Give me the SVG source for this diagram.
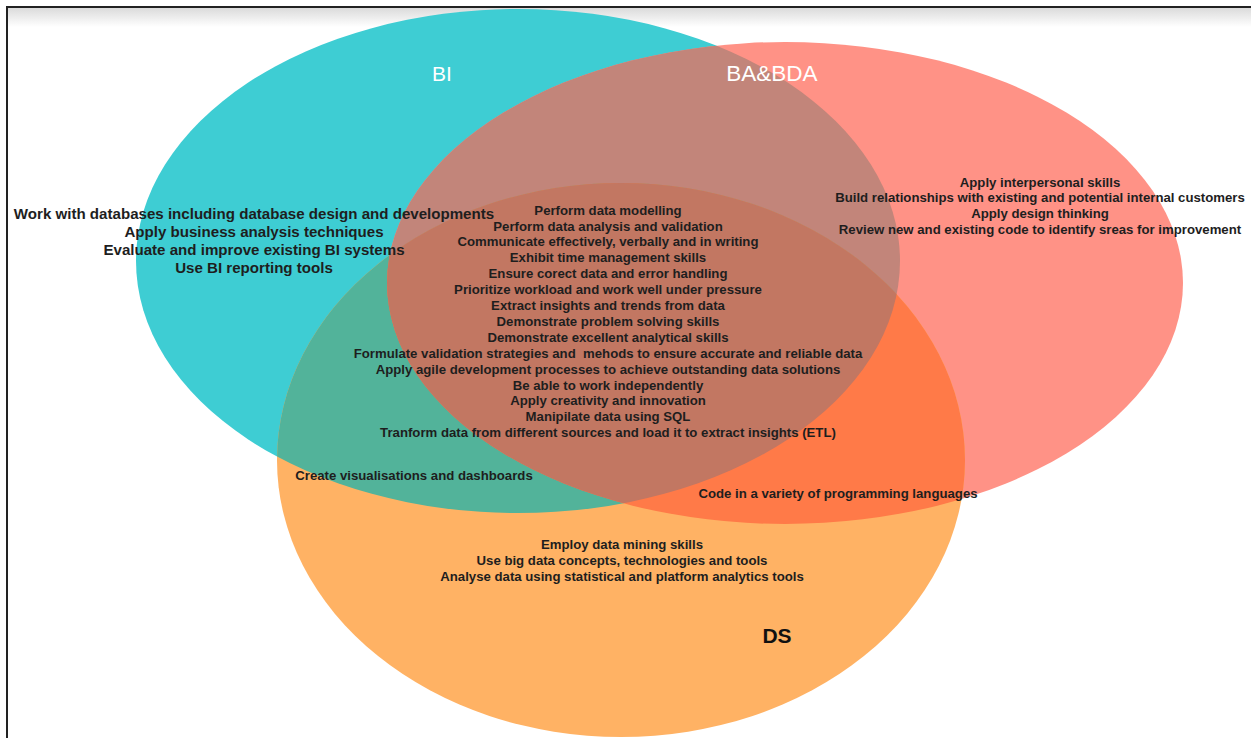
<svg xmlns="http://www.w3.org/2000/svg" width="1251" height="738" viewBox="0 0 1251 738">
  <defs>
    <linearGradient id="topShade" x1="0" y1="0" x2="0" y2="1">
      <stop offset="0" stop-color="#d9d9d9"/>
      <stop offset="1" stop-color="#ffffff"/>
    </linearGradient>
    <ellipse id="shapeBI" cx="518" cy="261" rx="382" ry="252"/>
    <ellipse id="shapeBA" cx="785" cy="283" rx="398" ry="241"/>
    <ellipse id="shapeDS" cx="621" cy="460" rx="344" ry="277"/>
    <clipPath id="clipBI"><use href="#shapeBI"/></clipPath>
    <clipPath id="clipBA"><use href="#shapeBA"/></clipPath>
    <clipPath id="clipDS"><use href="#shapeDS"/></clipPath>
    <style>
      .lbl { font-family: "Liberation Sans", Arial, sans-serif; text-anchor: middle; }
      .set { font-size: 21px; fill: #ffffff; }
      .set2 { font-size: 22.5px; fill: #ffffff; }
      .ds { font-size: 21px; fill: #111111; font-weight: bold; }
      .big { font-size: 15.1px; font-weight: bold; fill: #1e1e1e; }
      .sm { font-size: 13.2px; font-weight: bold; fill: #1e1e1e; }
    </style>
  </defs>

  <!-- page background and frame -->
  <rect x="0" y="0" width="1251" height="738" fill="#ffffff"/>
  <rect x="7" y="7" width="1244" height="20" fill="url(#topShade)"/>

  <!-- set regions -->
  <g id="regions">
    <use href="#shapeBI" fill="#3ecdd3"/>
    <use href="#shapeBA" fill="#ff9286"/>
    <use href="#shapeDS" fill="#ffb264"/>
    <!-- pairwise overlaps -->
    <g clip-path="url(#clipBI)"><use href="#shapeBA" fill="#c2857a"/></g>
    <g clip-path="url(#clipBI)"><use href="#shapeDS" fill="#52b39a"/></g>
    <g clip-path="url(#clipBA)"><use href="#shapeDS" fill="#ff7a48"/></g>
    <!-- triple overlap -->
    <g clip-path="url(#clipBI)"><g clip-path="url(#clipBA)"><use href="#shapeDS" fill="#c27762"/></g></g>
  </g>

  <line x1="6" y1="7" x2="1251" y2="7" stroke="#222222" stroke-width="2"/>
  <line x1="7" y1="6" x2="7" y2="738" stroke="#222222" stroke-width="2"/>

  <g id="node-bi">
    <text class="lbl set" x="442" y="81">BI</text>
    <text class="lbl big" x="254" y="219">Work with databases including database design and developments</text>
    <text class="lbl big" x="254" y="237">Apply business analysis techniques</text>
    <text class="lbl big" x="254" y="255">Evaluate and improve existing BI systems</text>
    <text class="lbl big" x="254" y="273">Use BI reporting tools</text>
  </g>

  <g id="node-ba-bda">
    <text class="lbl set2" x="772" y="81">BA&amp;BDA</text>
    <text class="lbl sm" x="1040" y="187">Apply interpersonal skills</text>
    <text class="lbl sm" x="1040" y="202">Build relationships with existing and potential internal customers</text>
    <text class="lbl sm" x="1040" y="218">Apply design thinking</text>
    <text class="lbl sm" x="1040" y="234">Review new and existing code to identify sreas for improvement</text>
  </g>

  <g id="node-ds">
    <text class="lbl ds" x="777" y="643">DS</text>
    <text class="lbl sm" x="622" y="549">Employ data mining skills</text>
    <text class="lbl sm" x="622" y="565">Use big data concepts, technologies and tools</text>
    <text class="lbl sm" x="622" y="581">Analyse data using statistical and platform analytics tools</text>
  </g>

  <g id="node-shared">
    <text class="lbl sm" x="608" y="215">Perform data modelling</text>
    <text class="lbl sm" x="608" y="231">Perform data analysis and validation</text>
    <text class="lbl sm" x="608" y="246">Communicate effectively, verbally and in writing</text>
    <text class="lbl sm" x="608" y="262">Exhibit time management skills</text>
    <text class="lbl sm" x="608" y="278">Ensure corect data and error handling</text>
    <text class="lbl sm" x="608" y="294">Prioritize workload and work well under pressure</text>
    <text class="lbl sm" x="608" y="310">Extract insights and trends from data</text>
    <text class="lbl sm" x="608" y="326">Demonstrate problem solving skills</text>
    <text class="lbl sm" x="608" y="342">Demonstrate excellent analytical skills</text>
    <text class="lbl sm" x="608" y="358" xml:space="preserve">Formulate validation strategies and  mehods to ensure accurate and reliable data</text>
    <text class="lbl sm" x="608" y="374">Apply agile development processes to achieve outstanding data solutions</text>
    <text class="lbl sm" x="608" y="390">Be able to work independently</text>
    <text class="lbl sm" x="608" y="405">Apply creativity and innovation</text>
    <text class="lbl sm" x="608" y="421">Manipilate data using SQL</text>
    <text class="lbl sm" x="608" y="437">Tranform data from different sources and load it to extract insights (ETL)</text>
  </g>

  <g id="node-bi-ds">
    <text class="lbl sm" x="414" y="480">Create visualisations and dashboards</text>
  </g>

  <g id="node-ba-ds">
    <text class="lbl sm" x="838" y="498">Code in a variety of programming languages</text>
  </g>
</svg>
